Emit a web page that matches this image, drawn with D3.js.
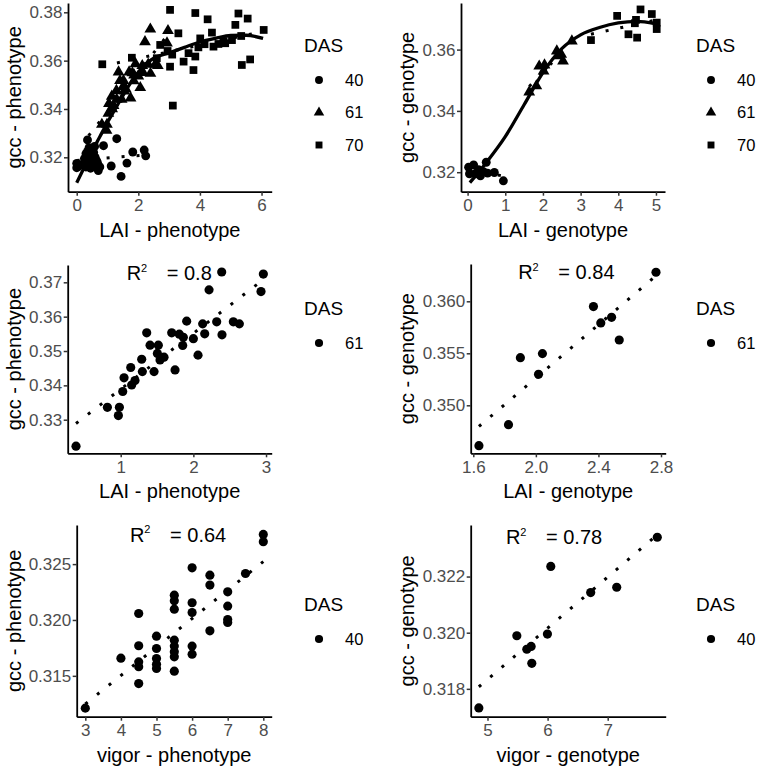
<!DOCTYPE html>
<html><head><meta charset="utf-8">
<script src="https://cdn.jsdelivr.net/npm/d3@7"></script>
<style>
body{margin:0;background:#fff}
svg{display:block}
text{font-family:"Liberation Sans",Arial,Helvetica,sans-serif}
</style>
</head><body>
<svg id="chart" width="758" height="769"></svg>
<script>
// ---------------- DATA ----------------
const dasLevels = ["40", "61", "70"];

// LAI phenotype vs gcc phenotype, by DAS
const phen40 = [[0.00,0.3175],[0.00,0.3157],[0.05,0.3162],[0.35,0.3272],[0.87,0.3248],[1.30,0.3277],[1.12,0.3164],[1.44,0.3121],[1.63,0.3176],[1.82,0.3222],[2.19,0.3230],[2.24,0.3206],[0.70,0.3145],[0.25,0.3195],[0.30,0.3215],[0.35,0.3225],[0.40,0.3240],[0.45,0.3205],[0.50,0.3180],[0.55,0.3170],[0.60,0.3200],[0.65,0.3185],[0.40,0.3170],[0.30,0.3160],[0.45,0.3155],[0.55,0.3220],[0.62,0.3165],[0.50,0.3230],[0.35,0.3190],[0.20,0.3172],[0.68,0.3175],[0.58,0.3245],[0.28,0.3180],[0.48,0.3195],[0.75,0.3160]];
const phen61 = [[0.385,0.3223],[0.817,0.3336],[0.968,0.3312],[0.982,0.3336],[1.028,0.3382],[1.046,0.3422],[1.138,0.3452],[1.151,0.3401],[1.197,0.3414],[1.289,0.3476],[1.298,0.3440],[1.358,0.3553],[1.404,0.3517],[1.459,0.3440],[1.505,0.3493],[1.518,0.3517],[1.541,0.3474],[1.596,0.3482],[1.702,0.3553],[1.748,0.3445],[1.807,0.3549],[1.853,0.3516],[1.862,0.3540],[1.908,0.3587],[2.000,0.3536],[2.064,0.3488],[2.128,0.3579],[2.156,0.3550],[2.216,0.3678],[2.321,0.3585],[2.390,0.3730],[2.394,0.3547],[2.550,0.3585],[2.633,0.3579],[2.931,0.3673],[2.963,0.3724]];
const phen70 = [[0.83,0.3585],[1.79,0.3612],[2.60,0.3610],[2.71,0.3665],[2.95,0.3640],[3.03,0.3810],[3.03,0.3575],[3.10,0.3625],[3.12,0.3414],[3.30,0.3713],[3.47,0.3596],[3.63,0.3631],[3.79,0.3561],[3.85,0.3797],[3.85,0.3617],[3.95,0.3655],[4.01,0.3692],[4.15,0.3668],[4.25,0.3771],[4.39,0.3716],[4.44,0.3658],[4.60,0.3669],[4.77,0.3681],[4.82,0.3672],[5.04,0.3685],[5.15,0.3748],[5.25,0.3795],[5.34,0.3702],[5.36,0.3582],[5.55,0.3774],[5.63,0.3605],[6.07,0.3727]];

// LAI genotype vs gcc genotype, by DAS
const gen40 = [[0.027,0.32163],[0.16,0.3224],[0.20,0.3195],[0.34,0.3188],[0.42,0.3202],[0.53,0.3197],[0.71,0.3199],[0.95,0.3172],[0.05,0.3195],[0.29,0.3208],[0.495,0.32325]];
const gen61 = [[1.636,0.34612],[1.825,0.34814],[1.901,0.35458],[2.042,0.35497],[2.017,0.35298],[2.368,0.35949],[2.415,0.35792],[2.484,0.35846],[2.533,0.35628],[2.768,0.36279]];
const gen70 = [[3.275,0.3631],[3.97,0.3710],[4.59,0.3731],[4.89,0.3716],[4.44,0.3686],[4.47,0.3697],[4.27,0.3650],[4.50,0.3639],[5.02,0.3688],[5.02,0.3667]];

// vigor vs gcc, DAS 40
const vigPhen40 = [[3,0.31211],[4,0.31658],[4.5,0.32058],[4.5,0.31769],[4.5,0.31625],[4.5,0.31581],[4.5,0.31431],[5,0.31855],[5,0.31745],[5,0.31655],[5,0.31604],[5,0.31566],[5.5,0.32222],[5.5,0.32172],[5.5,0.32097],[5.5,0.31819],[5.5,0.31766],[5.5,0.31715],[5.5,0.31670],[5.5,0.31542],[6,0.32467],[6,0.32154],[6,0.32067],[6,0.31766],[6,0.31694],[6.5,0.32401],[6.5,0.32312],[6.5,0.31903],[7,0.32252],[7,0.32124],[7,0.32004],[7,0.31978],[7.5,0.32416],[8,0.32766],[8,0.32700]];
const vigGen40 = [[4.856,0.31732],[5.488,0.31989],[5.654,0.31941],[5.726,0.31951],[5.737,0.31891],[5.997,0.31995],[6.053,0.32236],[6.717,0.32143],[7.150,0.32162],[7.825,0.32340]];

// overall smooth curves
const smoothPhen = [[0.0,0.3095],[0.25,0.3160],[0.5,0.3225],[0.75,0.3285],[1.0,0.3345],[1.25,0.3400],[1.5,0.3455],[1.75,0.3508],[2.0,0.3552],[2.25,0.3587],[2.5,0.3610],[3.0,0.3632],[3.5,0.3655],[4.0,0.3677],[4.5,0.3692],[5.0,0.3704],[5.5,0.3705],[6.05,0.3692]];
const smoothGen = [[0.06,0.3166],[0.5,0.3232],[1.0,0.3316],[1.5,0.3420],[2.0,0.3525],[2.5,0.3603],[3.0,0.3648],[3.5,0.3672],[4.0,0.3687],[4.5,0.3692],[4.97,0.3685]];

// R² annotations
const r2Values = ["0.8", "0.84", "0.64", "0.78"];
const r2Anchor = [[1.083,0.37067],[1.888,0.362115],[4.256,0.32701],[5.308,0.323149]];

// axis limits and ticks
const xLimits = [[-0.283,6.33],[-0.175,5.24],[0.2707,3.078],[1.5834,2.830],[2.758,8.236],[4.7205,7.965]];
const yLimits = [[0.30577,0.38385],[0.31364,0.37520],[0.32022,0.37504],[0.345385,0.363587],[0.311343,0.32850],[0.317008,0.323836]];
const xTickVals = [[0,2,4,6],[0,1,2,3,4,5],[1,2,3],[1.6,2.0,2.4,2.8],[3,4,5,6,7,8],[5,6,7]];
const xTickLabels = [["0","2","4","6"],["0","1","2","3","4","5"],["1","2","3"],["1.6","2.0","2.4","2.8"],["3","4","5","6","7","8"],["5","6","7"]];
const yTickVals = [[0.32,0.34,0.36,0.38],[0.32,0.34,0.36],[0.33,0.34,0.35,0.36,0.37],[0.350,0.355,0.360],[0.315,0.320,0.325],[0.318,0.320,0.322]];
const yTickLabels = [["0.32","0.34","0.36","0.38"],["0.32","0.34","0.36"],["0.33","0.34","0.35","0.36","0.37"],["0.350","0.355","0.360"],["0.315","0.320","0.325"],["0.318","0.320","0.322"]];
const xTitles = ["LAI - phenotype","LAI - genotype","LAI - phenotype","LAI - genotype","vigor - phenotype","vigor - genotype"];
const yTitles = ["gcc - phenotype","gcc - genotype","gcc - phenotype","gcc - genotype","gcc - phenotype","gcc - genotype"];

// ---------------- LAYOUT ----------------
const boxes = [ // left, right, top, bottom (px)
  [68,271.7,3,191.7],[461,665,3,191.7],
  [67.7,271.7,265,453.3],[470.7,665.7,264,453.3],
  [76.7,271.7,525,716.7],[470.7,665.7,525,716.7]
];
const yTitleX = [20.5,413.5,20.5,413.5,20.5,413.5];
const legendX = [319,711,319,711,319,711];
const legendTitleYs = [45,45,308,308,604,604];

const panels = [
  {series:[{das:"40",pts:phen40},{das:"61",pts:phen61},{das:"70",pts:phen70}], smooth:smoothPhen, shapeByDas:true, legend:dasLevels, r2:-1},
  {series:[{das:"40",pts:gen40},{das:"61",pts:gen61},{das:"70",pts:gen70}], smooth:smoothGen, shapeByDas:true, legend:dasLevels, r2:-1},
  {series:[{das:"61",pts:phen61}], smooth:null, shapeByDas:false, legend:["61"], r2:0},
  {series:[{das:"61",pts:gen61}], smooth:null, shapeByDas:false, legend:["61"], r2:1},
  {series:[{das:"40",pts:vigPhen40}], smooth:null, shapeByDas:false, legend:["40"], r2:2},
  {series:[{das:"40",pts:vigGen40}], smooth:null, shapeByDas:false, legend:["40"], r2:3}
];

const FS_TICK = 17, FS_TITLE = 20, FS_LEG_T = 19, FS_LEG = 16.5;
const shapeOf = {"40": d3.symbolCircle, "61": d3.symbolTriangle, "70": d3.symbolSquare};
const sizeOf = {"40": 62, "61": 60, "70": 60};

function linFit(pts){
  const mx = d3.mean(pts,d=>d[0]), my = d3.mean(pts,d=>d[1]);
  let sxy=0, sxx=0;
  for (const [a,b] of pts){ sxy += (a-mx)*(b-my); sxx += (a-mx)*(a-mx); }
  const slope = sxy/sxx;
  return d3.extent(pts,d=>d[0]).map(v=>[v, my + slope*(v-mx)]);
}

const svg = d3.select("#chart");

panels.forEach((p, i) => {
  const [L,R,T,B] = boxes[i];
  const x = d3.scaleLinear().domain(xLimits[i]).range([L,R]);
  const y = d3.scaleLinear().domain(yLimits[i]).range([B,T]);
  const g = svg.append("g");

  // points
  p.series.forEach(s => {
    const type = p.shapeByDas ? shapeOf[s.das] : d3.symbolCircle;
    const size = p.shapeByDas ? sizeOf[s.das] : 66;
    g.append("g").selectAll("path").data(s.pts).join("path")
      .attr("d", d3.symbol().type(type).size(size))
      .attr("transform", d => `translate(${x(d[0])},${y(d[1])})`)
      .attr("fill","#000");
  });

  const line = d3.line().x(d=>x(d[0])).y(d=>y(d[1]));
  // dotted linear fits per group
  p.series.forEach(s => {
    g.append("path").attr("d", line(linFit(s.pts)))
      .attr("fill","none").attr("stroke","#000").attr("stroke-width",3)
      .attr("stroke-dasharray","3 12");
  });
  // overall smooth
  if (p.smooth){
    g.append("path").attr("d", line.curve(d3.curveMonotoneX)(p.smooth))
      .attr("fill","none").attr("stroke","#000").attr("stroke-width",3.3)
      .attr("stroke-linecap","butt");
  }

  // axes
  const xa = g.append("g").attr("transform",`translate(0,${B})`)
    .call(d3.axisBottom(x).tickValues(xTickVals[i]).tickFormat((d,k)=>xTickLabels[i][k]).tickSizeOuter(0).tickSizeInner(4).tickPadding(3.5));
  const ya = g.append("g").attr("transform",`translate(${L},0)`)
    .call(d3.axisLeft(y).tickValues(yTickVals[i]).tickFormat((d,k)=>yTickLabels[i][k]).tickSizeOuter(0).tickSizeInner(4).tickPadding(1.5));
  [xa,ya].forEach(a=>{
    a.select(".domain").attr("stroke","#000").attr("stroke-width",1.8);
    a.selectAll(".tick line").attr("stroke","#333").attr("stroke-width",1.5);
    a.selectAll(".tick text").attr("fill","#4d4d4d").attr("font-size",FS_TICK)
      .attr("font-family",'"Liberation Sans",Arial,sans-serif');
  });

  // axis titles
  g.append("text").attr("x",(L+R)/2).attr("y",B+45).attr("text-anchor","middle")
    .attr("font-size",FS_TITLE).attr("fill","#000").text(xTitles[i]);
  g.append("text").attr("transform",`translate(${yTitleX[i]},${(T+B)/2}) rotate(-90)`)
    .attr("text-anchor","middle").attr("font-size",FS_TITLE).attr("fill","#000").text(yTitles[i]);

  // R² annotation
  if (p.r2 >= 0){
    const ax = x(r2Anchor[p.r2][0]), ay = y(r2Anchor[p.r2][1]);
    g.append("text").attr("x",ax).attr("y",ay).attr("font-size",FS_TITLE).attr("fill","#000").text("R");
    g.append("text").attr("x",ax+14.2).attr("y",ay-8.5).attr("font-size",11).attr("fill","#000").text("2");
    g.append("text").attr("x",ax+40).attr("y",ay).attr("font-size",FS_TITLE).attr("fill","#000").text("= " + r2Values[p.r2]);
  }

  // legend
  const titleC = legendTitleYs[i];
  const lx = legendX[i];
  g.append("text").attr("x",lx-15).attr("y",titleC+6.8).attr("font-size",FS_LEG_T).attr("fill","#000").text("DAS");
  p.legend.forEach((lv,k)=>{
    const yc = titleC + 35 + k*32.5;
    const type = p.shapeByDas ? shapeOf[lv] : d3.symbolCircle;
    const size = p.shapeByDas ? sizeOf[lv]*0.8 : 52;
    g.append("path").attr("d", d3.symbol().type(type).size(size)())
      .attr("transform",`translate(${lx},${yc})`).attr("fill","#000");
    g.append("text").attr("x",lx+26).attr("y",yc).attr("dy","0.36em")
      .attr("font-size",FS_LEG).attr("fill","#000").text(lv);
  });
});
</script>
</body></html>
